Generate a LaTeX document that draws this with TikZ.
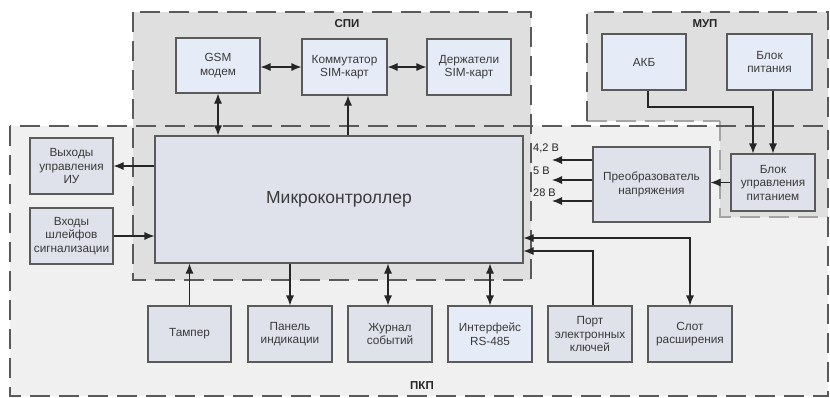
\documentclass[tikz,border=0pt]{standalone}
\usepackage{fontspec}
\setmainfont{Liberation Sans}
\usetikzlibrary{arrows.meta}
\definecolor{zoneA}{HTML}{F0F0F0}
\definecolor{zoneB}{HTML}{DFDFDF}
\definecolor{boxA}{HTML}{E6ECF7}
\definecolor{boxB}{HTML}{DFE2EA}
\definecolor{edge}{HTML}{5A5A5A}
\definecolor{txt}{HTML}{3A3A3A}
\tikzset{
  zoneline/.style={draw=edge, line width=2pt, dash pattern=on 20pt off 9pt},
  zonelight/.style={draw=edge!55, line width=2pt, dash pattern=on 20pt off 9pt},
  blk/.style={draw=edge, line width=1.1pt, inner sep=0pt, align=center, text=txt,
     font=\fontsize{11.8}{13.5}\selectfont},
  blkA/.style={blk, fill=boxA},
  blkB/.style={blk, fill=boxB},
  tip/.tip={Latex[length=10pt,width=8pt]},
  conn/.style={line width=1.1pt, draw=black!85, -tip},
  conn2/.style={line width=1.1pt, draw=black!85, tip-tip},
  zonelbl/.style={font=\fontsize{11.5}{13}\selectfont\bfseries, text=black!85},
  vlbl/.style={font=\fontsize{11}{12}\selectfont, text=black!85, anchor=west, inner sep=0pt}
}
\begin{document}
\begin{tikzpicture}[x=1pt,y=-1pt]
\useasboundingbox (0,0) rectangle (830,397);
% zone fills
\fill[zoneA] (10,126) rectangle (828,396);
\fill[zoneB] (133,12) rectangle (531,280);
\fill[zoneB] (587,12) -- (828,12) -- (828,217) -- (720,217) -- (720,121) -- (587,121) -- cycle;
% zone borders
\draw[zonelight] (720,121) -- (720,217) -- (828,217);
\draw[zonelight] (587,121) -- (720,121);
\draw[zoneline] (587,121) -- (587,12) -- (828,12) -- (828,126);
\draw[zoneline] (10,126) rectangle (828,396);
\draw[zoneline] (133,12) rectangle (531,280);
% zone labels
\node[zonelbl] (lspi) at (347,24) {СПИ};
\node[zonelbl] (lmup) at (705,24) {МУП};
\node[zonelbl] (lpkp) at (422,386) {ПКП};
% blocks
\node[blkA, minimum width=84pt, minimum height=55pt] (gsm) at (218,65.5) {GSM\\модем};
\node[blkA, minimum width=85pt, minimum height=56pt] (kom) at (344.5,67) {Коммутатор\\SIM-карт};
\node[blkA, minimum width=84pt, minimum height=56pt] (der) at (469,67) {Держатели\\SIM-карт};
\node[blkA, minimum width=84pt, minimum height=56pt] (akb) at (644,62) {АКБ};
\node[blkA, minimum width=85pt, minimum height=56pt] (bp) at (769.5,62) {Блок\\питания};
\node[blkB, minimum width=368pt, minimum height=127pt, font=\fontsize{17.5}{20}\selectfont] (mcu) at (339,199.5) {Микроконтроллер};
\node[blkB, minimum width=83pt, minimum height=56pt] (vyh) at (71.5,166) {Выходы\\управления\\ИУ};
\node[blkB, minimum width=83pt, minimum height=56pt] (vh) at (71.5,236) {Входы\\шлейфов\\сигнализации};
\node[blkB, minimum width=83pt, minimum height=56pt] (tam) at (189.5,334) {Тампер};
\node[blkB, minimum width=84pt, minimum height=56pt] (pan) at (290,334) {Панель\\индикации};
\node[blkB, minimum width=84pt, minimum height=56pt] (zhur) at (390,334) {Журнал\\событий};
\node[blkA, minimum width=84pt, minimum height=56pt] (rs) at (490,334) {Интерфейс\\RS-485};
\node[blkB, minimum width=84pt, minimum height=56pt] (port) at (590,334) {Порт\\электронных\\ключей};
\node[blkB, minimum width=84pt, minimum height=56pt] (slot) at (690,334) {Слот\\расширения};
\node[blkB, minimum width=117pt, minimum height=75pt] (preob) at (651.5,184.5) {Преобразователь\\напряжения};
\node[blkB, minimum width=84pt, minimum height=57pt] (bup) at (773,182.5) {Блок\\управления\\питанием};
% free ends of voltage outputs
\coordinate (v42) at (552,160);
\coordinate (v5) at (552,180);
\coordinate (v28) at (552,201);
\node[vlbl] (l42) at (533,148) {4,2 В};
\node[vlbl] (l5) at (533,171) {5 В};
\node[vlbl] (l28) at (533,193) {28 В};
% connectors
\draw[conn2] (gsm.east |- 0,67) -- (kom.west |- 0,67);
\draw[conn2] (kom.east) -- (der.west);
\draw[conn2] (gsm.south) -- (gsm.south |- mcu.north);
\draw[conn] (mcu.north -| 348,0) -- (kom.south -| 348,0);
\draw[conn] (mcu.west |- vyh.east) -- (vyh.east);
\draw[conn] (vh.east) -- (vh.east -| mcu.west);
\draw[conn] (tam.north) -- (tam.north |- mcu.south);
\draw[conn] (mcu.south -| pan.north) -- (pan.north);
\draw[conn2] (mcu.south -| 388,0) -- (zhur.north -| 388,0);
\draw[conn2] (mcu.south -| rs.north) -- (rs.north);
\draw[conn] (port.north -| 593,0) |- (mcu.east |- 0,251);
\draw[conn2] (mcu.east |- 0,238) -| (slot.north);
\draw[conn] (preob.west |- v42) -- (v42);
\draw[conn] (preob.west |- v5) -- (v5);
\draw[conn] (preob.west |- v28) -- (v28);
\draw[conn] (bup.west) -- (bup.west -| preob.east);
\draw[conn] (akb.south -| 648,0) |- (753,107) -- (bup.north -| 753,0);
\draw[conn] (bp.south -| 773,0) -- (bup.north -| 773,0);
\end{tikzpicture}
\end{document}
